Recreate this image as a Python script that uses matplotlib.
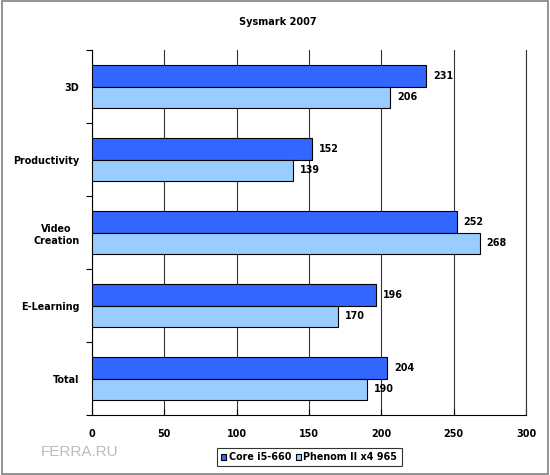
import numpy as np
import matplotlib.pyplot as plt
from matplotlib.patches import Rectangle

categories = ['3D', 'Productivity', 'Video\nCreation', 'E-Learning', 'Total']
core_i5 = [231, 152, 252, 196, 204]
phenom = [206, 139, 268, 170, 190]
series_names = ['Core i5-660', 'Phenom II x4 965']
x_ticks = [0, 50, 100, 150, 200, 250, 300]

plt.rcParams['font.family'] = ['Verdana', 'DejaVu Sans']
plt.rcParams['font.weight'] = 'bold'
plt.rcParams['font.size'] = 6.9

fig = plt.figure(figsize=(5.5, 4.75), dpi=100)
fig.patches.append(Rectangle((0.003, 0.003), 0.994, 0.994, transform=fig.transFigure,
                             fill=False, edgecolor='#808080', linewidth=1.2))
ax = fig.add_axes([0.1673, 0.1263, 0.7891, 0.7684])

y = np.arange(len(categories))
h = 0.29
b1 = ax.barh(y - h / 2, core_i5, height=h, color='#3366FF', edgecolor='black', linewidth=0.8,
             label=series_names[0], zorder=3)
b2 = ax.barh(y + h / 2, phenom, height=h, color='#99CCFF', edgecolor='black', linewidth=0.8,
             label=series_names[1], zorder=3)

for bars, vals in [(b1, core_i5), (b2, phenom)]:
    for bar, v in zip(bars, vals):
        ax.annotate(str(v), (v, bar.get_y() + bar.get_height() / 2), xytext=(5, 0),
                    textcoords='offset points', va='center', ha='left', fontweight='bold')

ax.set_xlim(0, 300)
ax.set_ylim(len(categories) - 0.5, -0.5)
ax.set_xticks(x_ticks)
ax.set_yticks(y)
ax.set_yticklabels(categories, multialignment='center', linespacing=1.3)
ax.set_yticks(np.arange(len(categories) + 1) - 0.5, minor=True)
ax.tick_params(axis='y', which='major', length=0, pad=9)
ax.tick_params(axis='y', which='minor', length=4, direction='out', width=0.8)
ax.tick_params(axis='x', length=4, direction='in', width=0.8, pad=10)
ax.grid(axis='x', color='#333333', linewidth=0.8, zorder=0)
ax.spines['top'].set_visible(False)
ax.spines['right'].set_color('#333333')
for side in ['left', 'bottom', 'right']:
    ax.spines[side].set_linewidth(0.8)

fig.text(0.506, 0.954, 'Sysmark 2007', ha='center', va='center', fontweight='bold', fontsize=7)

leg = fig.legend(handles=[b1, b2], loc='lower center', bbox_to_anchor=(0.562, 0.008), ncol=2,
                 frameon=True, fancybox=False, edgecolor='black', handlelength=0.55,
                 handleheight=0.55, handletextpad=0.25, columnspacing=0.5, borderpad=0.45,
                 fontsize=6.9)
leg.get_frame().set_linewidth(0.8)

fig.text(0.145, 0.048, 'FERRA.RU', color='#b8bcc4', fontsize=11, fontweight='normal',
         ha='center', va='center', family=['Liberation Sans', 'DejaVu Sans'])

fig.savefig('out.png', dpi=100)
